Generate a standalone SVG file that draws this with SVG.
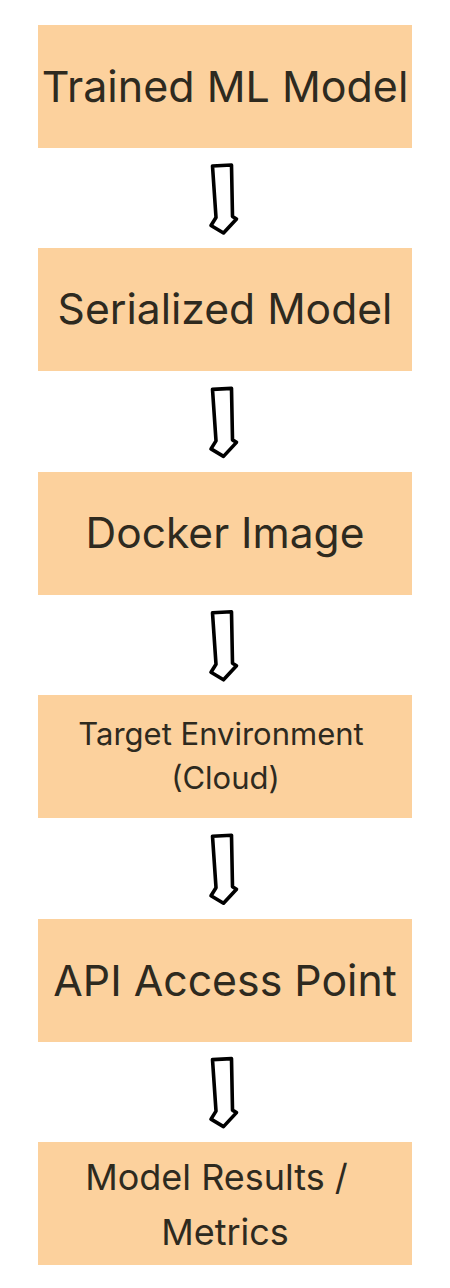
<svg xmlns="http://www.w3.org/2000/svg" width="450" height="1288" viewBox="0 0 450 1288">
<defs>
<style>
.box{fill:#FCD19D;}
.t{font-family:Inter,"Noto Sans","Liberation Sans",sans-serif;fill:#2E2A1F;text-anchor:middle;}
.arrow{fill:none;stroke:#000;stroke-width:3.6;stroke-linejoin:round;stroke-linecap:round;}
</style>
<path id="arr" d="M212.5,166 L231.5,165 L232.5,216.5 L236.5,219 L223.5,233 L211,225.5 L216,217.5 Z"/>
</defs>
<rect width="450" height="1288" fill="#fff"/>
<g id="connectors">
<use href="#arr" class="arrow"/>
<use href="#arr" class="arrow" transform="translate(0,223.4)"/>
<use href="#arr" class="arrow" transform="translate(0,446.8)"/>
<use href="#arr" class="arrow" transform="translate(0,670.2)"/>
<use href="#arr" class="arrow" transform="translate(0,893.6)"/>
</g>
<g id="n1"><rect class="box" x="38" y="25" width="374" height="123"/><text class="t" x="225" y="102" font-size="43">Trained ML Model</text></g>
<g id="n2"><rect class="box" x="38" y="248" width="374" height="123"/><text class="t" x="225" y="324" font-size="42.6">Serialized Model</text></g>
<g id="n3"><rect class="box" x="38" y="472" width="374" height="123"/><text class="t" x="225" y="548" font-size="42.5">Docker Image</text></g>
<g id="n4"><rect class="box" x="38" y="695" width="374" height="123"/><text class="t" font-size="31"><tspan x="221" y="745">Target Environment</tspan><tspan x="225.5" y="789">(Cloud)</tspan></text></g>
<g id="n5"><rect class="box" x="38" y="919" width="374" height="123"/><text class="t" x="225" y="996" font-size="42.8">API Access Point</text></g>
<g id="n6"><rect class="box" x="38" y="1142" width="374" height="123"/><text class="t" font-size="36"><tspan x="216.5" y="1190">Model Results /</tspan><tspan x="225" y="1245">Metrics</tspan></text></g>
</svg>
